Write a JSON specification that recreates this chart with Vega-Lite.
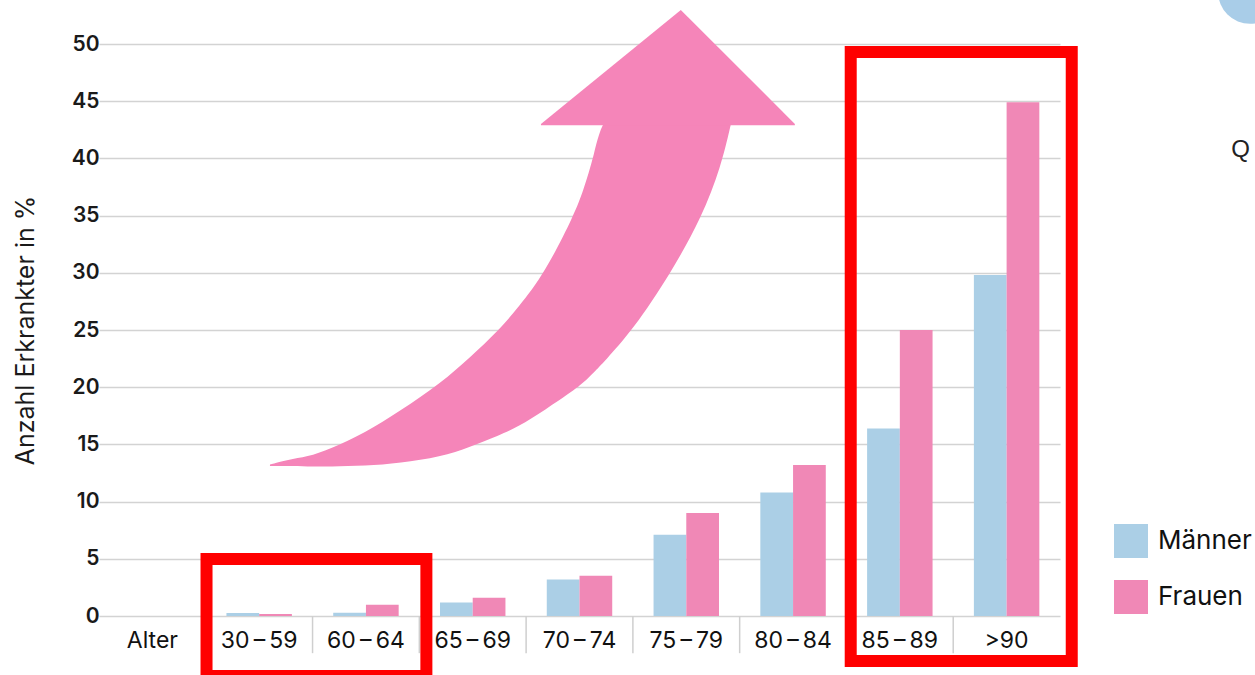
{
  "$schema": "https://vega.github.io/schema/vega-lite/v6.json",
  "width": 961,
  "height": 572,
  "autosize": "none",
  "padding": {"left": 99, "top": 44, "right": 195, "bottom": 59},
  "background": "white",
  "config": {
    "view": {"stroke": null},
    "font": "Inter",
    "axisY": {
      "grid": true,
      "gridColor": "#d3d3d3",
      "gridWidth": 1.5,
      "domain": false,
      "ticks": false,
      "labelFont": "Inter",
      "labelFontSize": 21,
      "labelFontWeight": 600,
      "labelColor": "#1a1a1a",
      "labelPadding": 0,
      "titleFont": "Inter",
      "titleFontSize": 25,
      "titleFontWeight": "normal",
      "titleColor": "#1a1a1a",
      "titlePadding": 33
    }
  },
  "datasets": {
    "bars": [
      {"Alter": "30\u2009–\u200959", "Geschlecht": "Männer", "Wert": 0.26},
      {"Alter": "30\u2009–\u200959", "Geschlecht": "Frauen", "Wert": 0.17},
      {"Alter": "60\u2009–\u200964", "Geschlecht": "Männer", "Wert": 0.29},
      {"Alter": "60\u2009–\u200964", "Geschlecht": "Frauen", "Wert": 0.99},
      {"Alter": "65\u2009–\u200969", "Geschlecht": "Männer", "Wert": 1.17},
      {"Alter": "65\u2009–\u200969", "Geschlecht": "Frauen", "Wert": 1.6},
      {"Alter": "70\u2009–\u200974", "Geschlecht": "Männer", "Wert": 3.2},
      {"Alter": "70\u2009–\u200974", "Geschlecht": "Frauen", "Wert": 3.52},
      {"Alter": "75\u2009–\u200979", "Geschlecht": "Männer", "Wert": 7.1},
      {"Alter": "75\u2009–\u200979", "Geschlecht": "Frauen", "Wert": 9.0},
      {"Alter": "80\u2009–\u200984", "Geschlecht": "Männer", "Wert": 10.8},
      {"Alter": "80\u2009–\u200984", "Geschlecht": "Frauen", "Wert": 13.2},
      {"Alter": "85\u2009–\u200989", "Geschlecht": "Männer", "Wert": 16.4},
      {"Alter": "85\u2009–\u200989", "Geschlecht": "Frauen", "Wert": 25.0},
      {"Alter": ">90", "Geschlecht": "Männer", "Wert": 29.8},
      {"Alter": ">90", "Geschlecht": "Frauen", "Wert": 44.9}
    ],
    "separators": [
      {"b": 1}, {"b": 2}, {"b": 3}, {"b": 4}, {"b": 5}, {"b": 6}, {"b": 7}, {"b": 8}
    ],
    "arrowBody": [
      {"ax": 1.601, "atop": 13.24, "abot": 13.11},
      {"ax": 1.770, "atop": 13.68, "abot": 13.11},
      {"ax": 1.948, "atop": 13.90, "abot": 13.07},
      {"ax": 2.163, "atop": 14.60, "abot": 13.07},
      {"ax": 2.491, "atop": 16.00, "abot": 13.11},
      {"ax": 2.818, "atop": 17.92, "abot": 13.37},
      {"ax": 3.202, "atop": 20.37, "abot": 13.90},
      {"ax": 3.474, "atop": 22.60, "abot": 14.77},
      {"ax": 3.745, "atop": 25.00, "abot": 15.78},
      {"ax": 3.923, "atop": 26.92, "abot": 16.52},
      {"ax": 4.176, "atop": 29.98, "abot": 18.01},
      {"ax": 4.457, "atop": 35.23, "abot": 19.80},
      {"ax": 4.532, "atop": 37.09, "abot": 20.37},
      {"ax": 4.635, "atop": 40.2, "abot": 21.30},
      {"ax": 4.728, "atop": 44.2, "abot": 22.20},
      {"ax": 5.000, "atop": 43.53, "abot": 25.00},
      {"ax": 5.356, "atop": 43.53, "abot": 29.98},
      {"ax": 5.646, "atop": 43.53, "abot": 34.88},
      {"ax": 5.824, "atop": 43.53, "abot": 39.25},
      {"ax": 5.918, "atop": 43.53, "abot": 43.01}
    ],
    "arrowHead": [
      {"ax": 4.139, "atop": 43.01, "abot": 42.9},
      {"ax": 5.449, "atop": 52.97, "abot": 42.9},
      {"ax": 6.517, "atop": 43.01, "abot": 42.9}
    ],
    "boxes": [
      {"x1": 1.007, "x2": 3.066, "y1": 4.98, "y2": -5.24},
      {"x1": 7.04, "x2": 9.11, "y1": 49.3, "y2": -3.93}
    ],
    "texts": [
      {"tx": 10.69, "ty": 40.1, "t": "Q"}
    ],
    "blob": [
      {"px": 10.78, "py": 54.55}
    ]
  },
  "layer": [
    {
      "data": {"name": "bars"},
      "mark": {"type": "bar"},
      "encoding": {
        "x": {
          "field": "Alter",
          "type": "nominal",
          "sort": null,
          "scale": {
            "domain": ["Alter", "30\u2009–\u200959", "60\u2009–\u200964", "65\u2009–\u200969", "70\u2009–\u200974", "75\u2009–\u200979", "80\u2009–\u200984", "85\u2009–\u200989", ">90"],
            "paddingInner": 0.387,
            "paddingOuter": 0.1935
          },
          "axis": {
            "title": null,
            "labelAngle": 0,
            "labelFont": "Inter",
            "labelFontSize": 23,
            "labelColor": "#111111",
            "labelPadding": 13,
            "ticks": false,
            "domain": false,
            "grid": false
          }
        },
        "xOffset": {
          "field": "Geschlecht",
          "type": "nominal",
          "sort": ["Männer", "Frauen"],
          "scale": {"domain": ["Männer", "Frauen"], "paddingInner": 0, "paddingOuter": 0}
        },
        "y": {
          "field": "Wert",
          "type": "quantitative",
          "title": "Anzahl Erkrankter in %",
          "scale": {"domain": [0, 50], "nice": false},
          "axis": {"values": [0, 5, 10, 15, 20, 25, 30, 35, 40, 45, 50]}
        },
        "color": {
          "field": "Geschlecht",
          "type": "nominal",
          "scale": {"domain": ["Männer", "Frauen"], "range": ["#abcfe6", "#f088b6"]},
          "legend": {
            "title": null,
            "orient": "none",
            "legendX": 1015,
            "legendY": 480,
            "symbolType": "square",
            "symbolSize": 1156,
            "symbolStrokeWidth": 0,
            "symbolOpacity": 1,
            "labelFont": "Inter",
            "labelFontSize": 26,
            "labelColor": "#111111",
            "labelOffset": 10,
            "rowPadding": 22
          }
        }
      }
    },
    {
      "data": {"name": "separators"},
      "mark": {"type": "rule", "color": "#cfcfcf", "strokeWidth": 1.5},
      "encoding": {
        "x": {"field": "b", "type": "quantitative", "scale": {"domain": [0, 9], "nice": false, "zero": false}, "axis": null},
        "y": {"datum": 0, "type": "quantitative", "scale": {"domain": [0, 50], "nice": false}},
        "y2": {"datum": -3.25}
      }
    },
    {
      "data": {"name": "arrowBody"},
      "mark": {"type": "area", "color": "#f585b9", "opacity": 1, "interpolate": "basis"},
      "encoding": {
        "x": {"field": "ax", "type": "quantitative", "scale": {"domain": [0, 9], "nice": false, "zero": false}, "axis": null},
        "y": {"field": "atop", "type": "quantitative", "title": "Anzahl Erkrankter in %", "scale": {"domain": [0, 50], "nice": false}},
        "y2": {"field": "abot"}
      }
    },
    {
      "data": {"name": "arrowHead"},
      "mark": {"type": "area", "color": "#f585b9", "opacity": 1, "interpolate": "linear"},
      "encoding": {
        "x": {"field": "ax", "type": "quantitative", "scale": {"domain": [0, 9], "nice": false, "zero": false}, "axis": null},
        "y": {"field": "atop", "type": "quantitative", "title": "Anzahl Erkrankter in %", "scale": {"domain": [0, 50], "nice": false}},
        "y2": {"field": "abot"}
      }
    },
    {
      "data": {"name": "boxes"},
      "mark": {"type": "rect", "filled": false, "stroke": "#ff0000", "strokeWidth": 12},
      "encoding": {
        "x": {"field": "x1", "type": "quantitative", "scale": {"domain": [0, 9], "nice": false, "zero": false}, "axis": null},
        "x2": {"field": "x2"},
        "y": {"field": "y1", "type": "quantitative", "title": "Anzahl Erkrankter in %", "scale": {"domain": [0, 50], "nice": false}},
        "y2": {"field": "y2"}
      }
    },
    {
      "data": {"name": "texts"},
      "mark": {"type": "text", "font": "Liberation Sans", "fontSize": 24, "color": "#222222", "align": "center", "baseline": "alphabetic"},
      "encoding": {
        "x": {"field": "tx", "type": "quantitative", "scale": {"domain": [0, 9], "nice": false, "zero": false}, "axis": null},
        "y": {"field": "ty", "type": "quantitative", "title": "Anzahl Erkrankter in %", "scale": {"domain": [0, 50], "nice": false}},
        "text": {"field": "t"}
      }
    },
    {
      "data": {"name": "blob"},
      "mark": {"type": "point", "shape": "circle", "filled": true, "color": "#a9cde8", "opacity": 1, "size": 4071},
      "encoding": {
        "x": {"field": "px", "type": "quantitative", "scale": {"domain": [0, 9], "nice": false, "zero": false}, "axis": null},
        "y": {"field": "py", "type": "quantitative", "title": "Anzahl Erkrankter in %", "scale": {"domain": [0, 50], "nice": false}}
      }
    }
  ],
  "resolve": {"scale": {"x": "independent"}}
}
